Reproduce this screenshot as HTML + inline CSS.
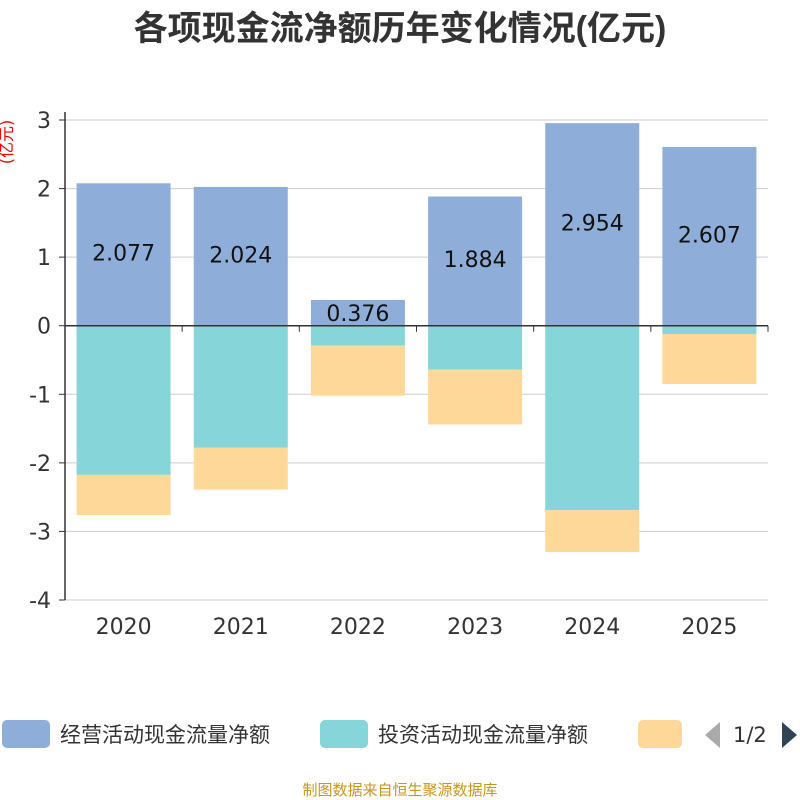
<!DOCTYPE html>
<html><head><meta charset="utf-8">
<style>
html,body{margin:0;padding:0;background:#fff;width:800px;height:800px;overflow:hidden}
body{font-family:"Liberation Sans","Noto Sans CJK SC",sans-serif}
</style></head>
<body>
<svg id="chart" width="800" height="800" xmlns="http://www.w3.org/2000/svg">
<text x="400" y="40" text-anchor="middle" font-size="34" font-weight="bold" fill="#333" font-family="Liberation Sans,Noto Sans CJK SC,sans-serif">各项现金流净额历年变化情况(亿元)</text>
<text transform="translate(12,142) rotate(-90)" text-anchor="middle" font-size="16" fill="#e00" font-family="DejaVu Sans,Noto Sans CJK SC,sans-serif">(亿元)</text>
<g id="grid"></g><g id="bars"></g><g id="axes"></g>
<g>
<rect x="2" y="720" width="48" height="28" rx="5" fill="#8eaed9"/>
<text x="60" y="742" font-size="21" fill="#333" font-family="Liberation Sans,Noto Sans CJK SC,sans-serif">经营活动现金流量净额</text>
<rect x="320" y="720" width="48" height="28" rx="5" fill="#86d5d8"/>
<text x="378" y="742" font-size="21" fill="#333" font-family="Liberation Sans,Noto Sans CJK SC,sans-serif">投资活动现金流量净额</text>
<rect x="638" y="720" width="44" height="28" rx="5" fill="#fed898"/>
<polygon points="720,722 720,748 705,735" fill="#aaa"/>
<text x="733" y="742" font-size="21" fill="#333" font-family="DejaVu Sans,sans-serif">1/2</text>
<polygon points="782,722 782,748 797,735" fill="#2f4554"/>
</g>
<text x="400" y="795" text-anchor="middle" font-size="15" fill="#c8961e" font-family="Liberation Sans,Noto Sans CJK SC,sans-serif">制图数据来自恒生聚源数据库</text>
</svg>
<script>
const categories=["2020","2021","2022","2023","2024","2025"];
const operating=[2.077,2.024,0.376,1.884,2.954,2.607];
const investing=[-2.175,-1.78,-0.29,-0.64,-2.69,-0.12];
const financing=[-0.585,-0.61,-0.73,-0.8,-0.61,-0.73];
const yTicks=[3,2,1,0,-1,-2,-3,-4];
const NS="http://www.w3.org/2000/svg";
const FONT="DejaVu Sans, sans-serif";
const x0=65,x1=768,yTop=120,yBot=600,vMax=3,vMin=-4;
const y=v=>yTop+(vMax-v)/(vMax-vMin)*(yBot-yTop);
const bw=(x1-x0)/categories.length;
const xc=i=>x0+bw*(i+0.5);
function mk(tag,attrs,parent){const e=document.createElementNS(NS,tag);for(const k in attrs)e.setAttribute(k,attrs[k]);parent.appendChild(e);return e;}
const grid=document.getElementById('grid'),bars=document.getElementById('bars'),axes=document.getElementById('axes');
yTicks.forEach(t=>{
 const l=mk('line',{x1:x0,x2:x1,y1:y(t),y2:y(t),stroke:'#ccc','stroke-width':1},grid);
 
 
 const tk=mk('line',{x1:x0-6,x2:x0,y1:y(t),y2:y(t),stroke:'#333'},axes);
 
 
 const tx=mk('text',{x:x0-14,y:y(t)+8,'text-anchor':'end','font-size':22,fill:'#333','font-family':FONT},axes);
 tx.textContent=t;
 
 
});
const w=94;
categories.forEach((c,i)=>{
 const cx=xc(i);
 const r1=mk('rect',{x:cx-w/2,y:y(operating[i]),width:w,height:y(0)-y(operating[i]),fill:'#8eaed9'},bars);
 
 
 const r2=mk('rect',{x:cx-w/2,y:y(0),width:w,height:y(investing[i])-y(0),fill:'#86d5d8'},bars);
 
 
 const b=investing[i]+financing[i];
 const r3=mk('rect',{x:cx-w/2,y:y(investing[i]),width:w,height:y(b)-y(investing[i]),fill:'#fed898'},bars);
 
 
 const ly=operating[i]<0.6?(y(operating[i])+y(0))/2+8:(y(operating[i])+y(0))/2+6;
 const lb=mk('text',{x:cx,y:ly,'text-anchor':'middle','font-size':22,fill:'#111','font-family':FONT},bars);
 lb.textContent=operating[i].toFixed(3);
 
 
 const xl=mk('text',{x:cx,y:634,'text-anchor':'middle','font-size':22,fill:'#333','font-family':FONT},axes);
 xl.textContent=c;
 
 
});
const ya=mk('line',{x1:x0,x2:x0,y1:yTop-8,y2:yBot,stroke:'#333','stroke-width':1.5},axes);


const xa=mk('line',{x1:x0,x2:x1,y1:y(0),y2:y(0),stroke:'#333','stroke-width':1.5},axes);


for(let i=0;i<=categories.length;i++){
 const t=mk('line',{x1:x0+bw*i,x2:x0+bw*i,y1:y(0),y2:y(0)+6,stroke:'#333'},axes);
 
 
}
</script>
</body></html>
